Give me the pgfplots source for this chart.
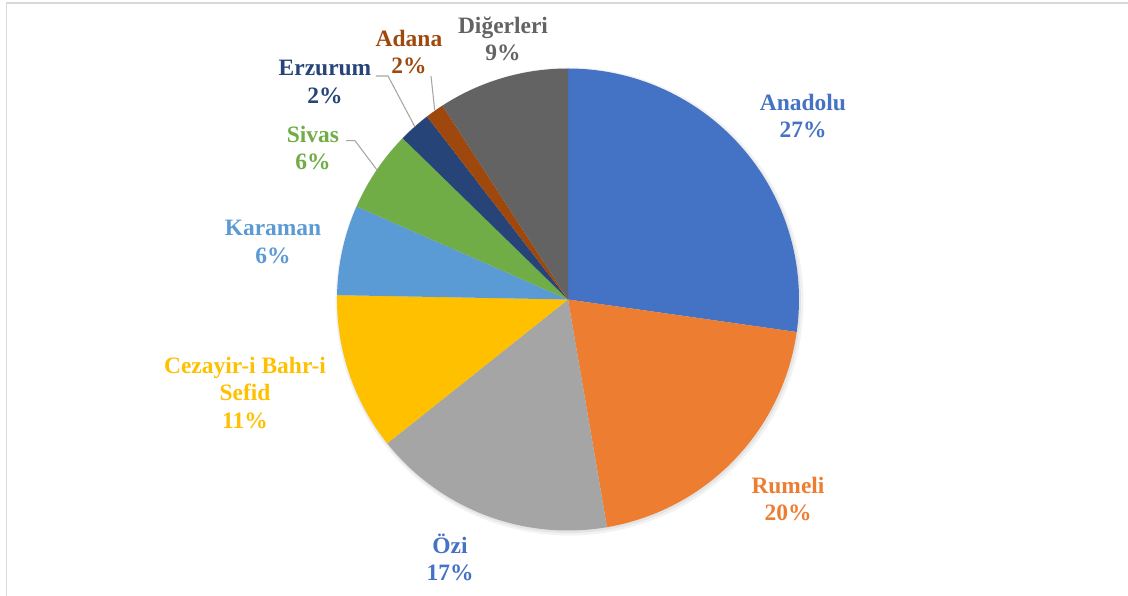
\documentclass[border=0pt]{standalone}
\usepackage{pgfplots}
\pgfplotsset{compat=1.18}
\usepackage{fontspec}
\setmainfont{Liberation Serif}
\definecolor{cAna}{HTML}{4472C4}
\definecolor{cRum}{HTML}{ED7D31}
\definecolor{cOzi}{HTML}{A5A5A5}
\definecolor{cCez}{HTML}{FFC000}
\definecolor{cKar}{HTML}{5B9BD5}
\definecolor{cSiv}{HTML}{70AD47}
\definecolor{cErz}{HTML}{264478}
\definecolor{cAda}{HTML}{9E480E}
\definecolor{cDig}{HTML}{636363}
\definecolor{cFrame}{HTML}{D9D9D9}
\definecolor{cLead}{HTML}{A6A6A6}
% slice: colour, cumulative start %, cumulative end % (clockwise from 12 o'clock)
\newcommand{\slice}[3]{%
  \addplot[fill=#1, draw=none, domain=#2:#3, samples=80, variable=\t]
    ({568+231*cos(90-3.6*\t)},{296.5+231*sin(90-3.6*\t)}) -- (axis cs:568,296.5) -- cycle;}
\newcommand{\lab}[4]{\node[align=center, text=#1, font=\bfseries\fontsize{17.6}{20.4}\selectfont, inner sep=0pt] at (axis cs:#2,#3) {#4};}
\begin{document}
\begin{tikzpicture}
\path[use as bounding box] (0,0) rectangle (846pt,447pt);
\begin{axis}[
  at={(0,0)}, anchor=south west,
  width=846pt, height=447pt, scale only axis,
  xmin=0, xmax=1128, ymin=0, ymax=596,
  hide axis, clip=true,
]
% frame
\addplot[draw=cFrame, line width=1.2pt] coordinates {(6.5,0) (6.5,593) (1128,593)};
% soft shadow
\addplot[fill=black, fill opacity=0.05, draw=none, domain=0:100, samples=120, variable=\t]
  ({569.5+234*cos(3.6*\t)},{294.5+234*sin(3.6*\t)});
\addplot[fill=black, fill opacity=0.06, draw=none, domain=0:100, samples=120, variable=\t]
  ({569+232*cos(3.6*\t)},{295+232*sin(3.6*\t)});
% slices: Anadolu 27.25, Rumeli 20.05, Ozi 17.0, Cezayir 11.0, Karaman 6.3,
% Sivas 5.7, Erzurum 2.25, Adana 1.3, Digerleri 9.15
\slice{cAna}{0}{27.25}
\slice{cRum}{27.25}{47.3}
\slice{cOzi}{47.3}{64.3}
\slice{cCez}{64.3}{75.3}
\slice{cKar}{75.3}{81.6}
\slice{cSiv}{81.6}{87.3}
\slice{cErz}{87.3}{89.55}
\slice{cAda}{89.55}{90.85}
\slice{cDig}{90.85}{100}
% leader lines
\addplot[draw=cLead, line width=0.8pt, mark=none] coordinates {(376,520) (388,520) (415,469)};
\addplot[draw=cLead, line width=0.8pt, mark=none] coordinates {(346,455.3) (355,455.3) (377,426)};
\addplot[draw=cLead, line width=0.8pt, mark=none] coordinates {(431,520) (434.7,486)};
% labels
\lab{cAna}{803}{480}{Anadolu\\27\%}
\lab{cRum}{788}{97}{Rumeli\\20\%}
\lab{cAna}{450}{39}{Özi\\17\%}
\lab{cCez}{245}{203}{Cezayir-i Bahr-i\\Sefid\\11\%}
\lab{cKar}{273}{354}{Karaman\\6\%}
\lab{cSiv}{313}{448}{Sivas\\6\%}
\lab{cErz}{325}{514}{Erzurum\\2\%}
\lab{cAda}{409}{544}{Adana\\2\%}
\lab{cDig}{503}{557}{Diğerleri\\9\%}
\end{axis}
\end{tikzpicture}
\end{document}
